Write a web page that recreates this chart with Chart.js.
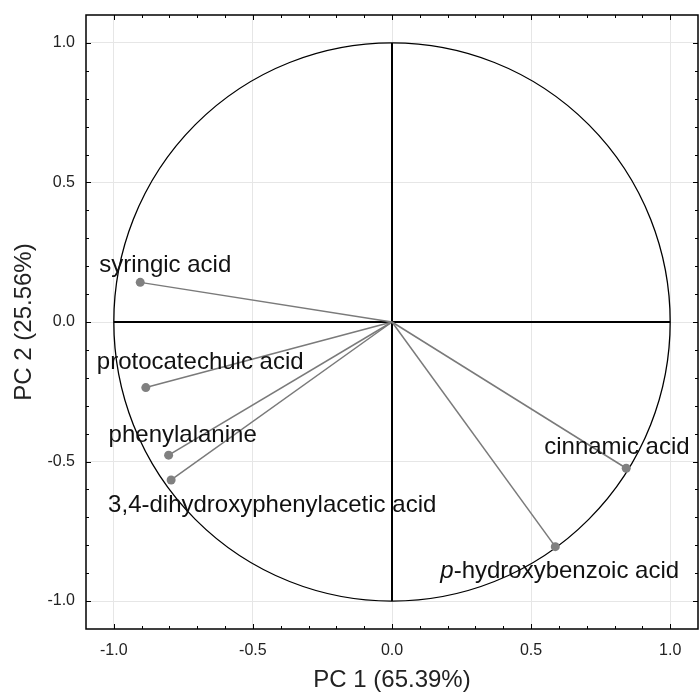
<!DOCTYPE html>
<html>
<head>
<meta charset="utf-8">
<script src="https://cdn.jsdelivr.net/npm/chart.js@4/dist/chart.umd.min.js"></script>
<style>
  html, body { margin: 0; padding: 0; background: #fff; }
  #wrap { width: 700px; height: 695px; }
</style>
</head>
<body>
<div id="wrap"><canvas id="c" width="700" height="695"></canvas></div>
<script>
// ---- data ----
const variables = ["syringic acid", "protocatechuic acid", "phenylalanine",
  "3,4-dihydroxyphenylacetic acid", "cinnamic acid", "p-hydroxybenzoic acid"];
const pc1 = [-0.905, -0.885, -0.803, -0.794, 0.842, 0.587];
const pc2 = [0.142, -0.235, -0.477, -0.566, -0.524, -0.805];
const majorTicks = [-1.0, -0.5, 0.0, 0.5, 1.0];
const minorTicks = [-1.0, -0.9, -0.8, -0.7, -0.6, -0.5, -0.4, -0.3, -0.2, -0.1, 0.0,
  0.1, 0.2, 0.3, 0.4, 0.5, 0.6, 0.7, 0.8, 0.9, 1.0];
const xTitle = "PC 1 (65.39%)";
const yTitle = "PC 2 (25.56%)";

// ---- label placement (pixel offsets from the point: left edge, baseline) ----
const labelOffsets = [
  [-41, -10], [-49, -19], [-60, -13], [-63, 32], [-82, -14], [-115, 31]
];

const FONT = "'Liberation Sans', Arial, Helvetica, sans-serif";

const datasets = variables.map((name, i) => ({
  label: name,
  data: [{x: 0, y: 0}, {x: pc1[i], y: pc2[i]}],
  showLine: true,
  borderColor: '#7a7a7a',
  borderWidth: 1.5,
  pointRadius: ctx => ctx.dataIndex === 1 ? 4.5 : 0,
  pointHoverRadius: ctx => ctx.dataIndex === 1 ? 4.5 : 0,
  pointBackgroundColor: '#808080',
  pointBorderColor: '#808080',
  pointBorderWidth: 0,
}));

const decor = {
  id: 'decor',
  beforeDatasetsDraw(chart) {
    const {ctx, scales: {x, y}} = chart;
    ctx.save();
    // unit circle
    const cx = x.getPixelForValue(0), cy = y.getPixelForValue(0);
    const rx = x.getPixelForValue(1) - cx, ry = cy - y.getPixelForValue(1);
    ctx.beginPath();
    ctx.ellipse(cx, cy, rx, ry, 0, 0, Math.PI * 2);
    ctx.strokeStyle = '#000';
    ctx.lineWidth = 1.3;
    ctx.stroke();
    // zero axes
    ctx.beginPath();
    ctx.moveTo(x.getPixelForValue(-1), cy);
    ctx.lineTo(x.getPixelForValue(1), cy);
    ctx.moveTo(cx, y.getPixelForValue(1));
    ctx.lineTo(cx, y.getPixelForValue(-1));
    ctx.lineWidth = 2;
    ctx.stroke();
    ctx.restore();
  },
  afterDatasetsDraw(chart) {
    const {ctx, chartArea: a, scales: {x, y}} = chart;
    ctx.save();
    // labels
    ctx.fillStyle = '#111';
    ctx.textBaseline = 'alphabetic';
    ctx.textAlign = 'left';
    variables.forEach((name, i) => {
      const px = x.getPixelForValue(pc1[i]) + labelOffsets[i][0];
      const py = y.getPixelForValue(pc2[i]) + labelOffsets[i][1];
      if (name.startsWith('p-')) {
        ctx.font = 'italic 24px ' + FONT;
        ctx.fillText('p', px, py);
        const w = ctx.measureText('p').width;
        ctx.font = '24px ' + FONT;
        ctx.fillText(name.slice(1), px + w, py);
      } else {
        ctx.font = '24px ' + FONT;
        ctx.fillText(name, px, py);
      }
    });
    // frame
    ctx.strokeStyle = '#000';
    ctx.lineWidth = 1.5;
    ctx.strokeRect(a.left, a.top, a.right - a.left, a.bottom - a.top);
    // inward ticks on all four sides
    ctx.lineWidth = 1;
    ctx.beginPath();
    minorTicks.forEach(v => {
      const major = majorTicks.some(m => Math.abs(m - v) < 1e-9);
      const len = major ? 5 : 3;
      const px = Math.round(x.getPixelForValue(v)) + 0.5;
      ctx.moveTo(px, a.bottom); ctx.lineTo(px, a.bottom - len);
      ctx.moveTo(px, a.top); ctx.lineTo(px, a.top + len);
      const py = Math.round(y.getPixelForValue(v)) + 0.5;
      ctx.moveTo(a.left, py); ctx.lineTo(a.left + len, py);
      ctx.moveTo(a.right, py); ctx.lineTo(a.right - len, py);
    });
    ctx.stroke();
    ctx.restore();
  }
};

const axisCommon = (title, titlePad) => ({
  type: 'linear',
  min: -1.1,
  max: 1.1,
  afterBuildTicks: s => { s.ticks = majorTicks.map(v => ({value: v})); },
  ticks: {
    callback: v => Number(v).toFixed(1),
    font: {family: FONT, size: 16},
    color: '#222',
    autoSkip: false,
    maxRotation: 0,
    padding: 11,
  },
  grid: {color: '#e6e6e6', lineWidth: 1, drawTicks: false},
  border: {display: false},
  title: {display: true, text: title, font: {family: FONT, size: 24}, color: '#222', padding: titlePad},
});

const xAxis = axisCommon(xTitle, {top: 0, bottom: 0});
xAxis.afterFit = s => { s.height = 66; s.paddingLeft = 0; s.paddingRight = 0; };
xAxis.ticks.padding = 12;
const yAxis = axisCommon(yTitle, {top: 10, bottom: 0});
yAxis.afterFit = s => { s.width = 86; s.paddingTop = 0; s.paddingBottom = 0; };

new Chart(document.getElementById('c'), {
  type: 'scatter',
  data: {datasets},
  options: {
    responsive: false,
    animation: false,
    devicePixelRatio: 1,
    layout: {autoPadding: false, padding: {top: 15, right: 2, left: 0, bottom: 0}},
    plugins: {legend: {display: false}, tooltip: {enabled: false}},
    scales: {x: xAxis, y: yAxis},
  },
  plugins: [decor],
});
</script>
</body>
</html>
